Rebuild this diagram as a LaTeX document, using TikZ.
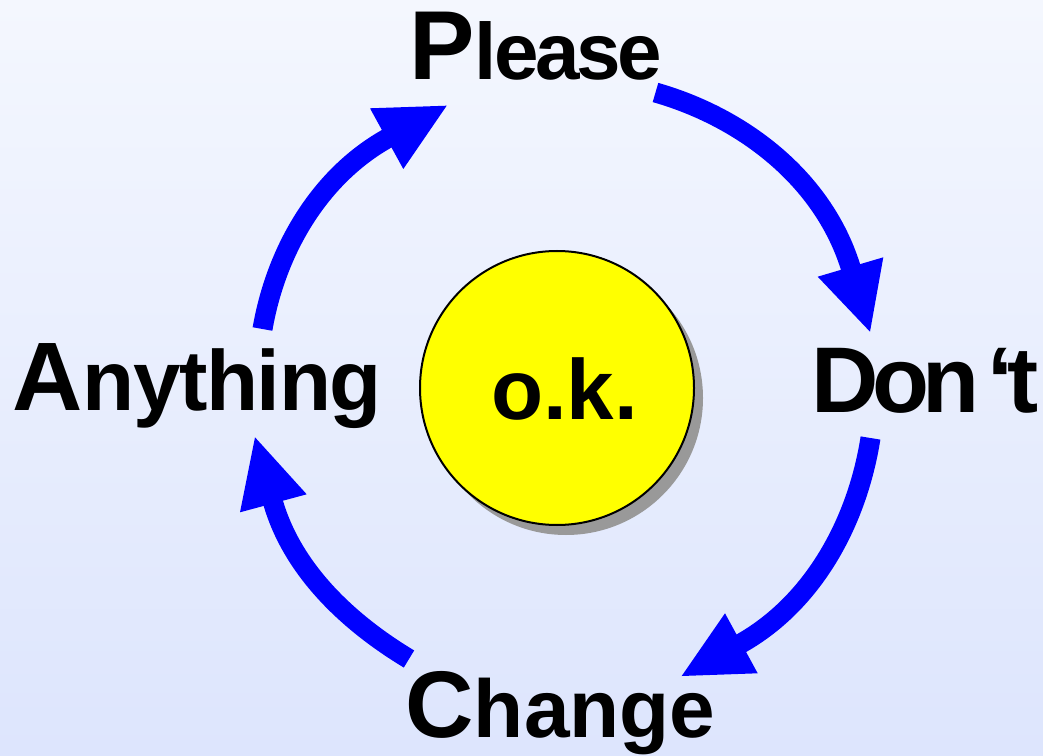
\documentclass[tikz,border=0pt]{standalone}
\usepackage{fontspec}
\setmainfont{Liberation Sans}
\newfontfamily\plsfont{Liberation Sans}[LetterSpace=-4]
\newfontfamily\dontfont{Liberation Sans}[LetterSpace=-7]
\newfontfamily\anyfont{Liberation Sans}[LetterSpace=-1.7]
\usetikzlibrary{shadows}
\definecolor{bgtop}{HTML}{F4F7FE}
\definecolor{bgbot}{HTML}{DDE5FD}
\definecolor{arrowblue}{HTML}{0000FF}
\definecolor{okyellow}{HTML}{FFFF00}
\definecolor{shadowgray}{HTML}{999999}
\newcommand{\fsz}[1]{\fontsize{#1pt}{#1pt}\selectfont}
\begin{document}
\begin{tikzpicture}[x=0.75pt,y=-0.75pt,
  word/.style={anchor=base, inner sep=0pt, font=\bfseries},
  flow/.style={draw=arrowblue, line width=15pt},
  head/.style={fill=arrowblue},
  okcircle/.style={circle, draw=black, line width=1.5pt, fill=okyellow,
    minimum size=205.5pt, inner sep=0pt,
    drop shadow={shadow xshift=6.75pt, shadow yshift=-7.5pt, fill=shadowgray, opacity=1}}
]
\shade[top color=bgtop, bottom color=bgbot] (0,0) rectangle (1043,756);
\useasboundingbox (0,0) rectangle (1043,756);

% words
\node[word] (please) at (536,80) {\plsfont{\fsz{73.5}P}{\fsz{60}lease}};
\node[word] (dont) at (925,412) {\dontfont\fsz{70}Don\kern6pt‘t};
\node[word] (change) at (560.5,737) {{\fsz{71}C}{\fsz{61.5}hange}};
\node[word] (anything) at (197,410) {\anyfont{\fsz{73}A}{\fsz{64}nything}};

% centre circle
\node[okcircle] (ok) at (557,388) {};
\node[word] (oklabel) at (564.5,419) {\fsz{64}o.k.};

% connector end points
\coordinate (trS) at (655.5,92.5);
\coordinate (trE) at (851.4,269.9);
\coordinate (trA) at (817.7,276.7);
\coordinate (trT) at (870,331.7);
\coordinate (trB) at (883.3,257.3);

\coordinate (brS) at (870.5,438);
\coordinate (brE) at (738.7,644.7);
\coordinate (brA) at (725,613.3);
\coordinate (brT) at (681.7,676);
\coordinate (brB) at (757.7,673.3);

\coordinate (blS) at (409,659);
\coordinate (blE) at (272.5,500.4);
\coordinate (blA) at (240,512.3);
\coordinate (blT) at (255,437.3);
\coordinate (blB) at (306.7,494.3);

\coordinate (tlS) at (262.5,329);
\coordinate (tlE) at (389.3,137.3);
\coordinate (tlA) at (370,108.3);
\coordinate (tlT) at (446.7,105.7);
\coordinate (tlB) at (403.3,169);

% Please -> Don't
\draw[flow] (trS) .. controls (744.9,118) and (824.9,180.8) .. (trE);
\fill[head] (trA) -- (trT) -- (trB) -- cycle;
% Don't -> Change
\draw[flow] (brS) .. controls (857.3,522) and (813.3,603.7) .. (brE);
\fill[head] (brA) -- (brT) -- (brB) -- cycle;
% Change -> Anything
\draw[flow] (blS) .. controls (347.9,622.2) and (291.6,569.2) .. (blE);
\fill[head] (blA) -- (blT) -- (blB) -- cycle;
% Anything -> Please
\draw[flow] (tlS) .. controls (276.1,250.5) and (319.4,175.6) .. (tlE);
\fill[head] (tlA) -- (tlT) -- (tlB) -- cycle;
\end{tikzpicture}
\end{document}
